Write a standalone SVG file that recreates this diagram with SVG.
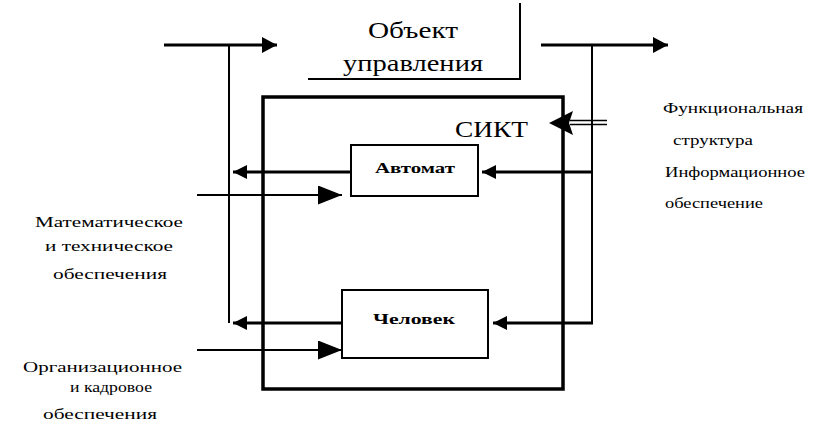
<svg xmlns="http://www.w3.org/2000/svg" width="816" height="427" viewBox="0 0 816 427">
<style>
  text { font-family: "Liberation Serif", "DejaVu Serif", "Times New Roman", serif; fill: #000; }
  .big { font-size: 24px; }
  .sm { font-size: 15px; }
  .node { font-size: 14px; font-weight: bold; }
  .thick { stroke: #000; stroke-width: 3; fill: none; }
  .thin { stroke: #000; stroke-width: 2; fill: none; }
  .hair { stroke: #000; stroke-width: 1.3; fill: none; }
  .box { stroke: #000; stroke-width: 2; fill: #fff; }
</style>
<defs>
  <marker id="aM" markerUnits="userSpaceOnUse" markerWidth="16" markerHeight="18" refX="15" refY="8" orient="auto">
    <path d="M0,0 L15,8 L0,16 Z" fill="#000"/>
  </marker>
  <marker id="aS" markerUnits="userSpaceOnUse" markerWidth="15" markerHeight="15" refX="14" refY="7" orient="auto">
    <path d="M0,0 L14,7 L0,14 Z" fill="#000"/>
  </marker>
  <marker id="aL" markerUnits="userSpaceOnUse" markerWidth="26" markerHeight="20" refX="24" refY="9.5" orient="auto">
    <path d="M0,0 L24,9.5 L0,19 Z" fill="#000"/>
  </marker>
</defs>
<rect width="816" height="427" fill="#fff"/>

<g id="object">
  <polyline class="thin" points="308,79 520,79 520,3"/>
  <text class="big" x="368" y="38" textLength="90" lengthAdjust="spacingAndGlyphs">Объект</text>
  <text class="big" x="343" y="71" textLength="140" lengthAdjust="spacingAndGlyphs">управления</text>
</g>

<g id="sikt">
  <rect x="263" y="97" width="300" height="292" fill="none" stroke="#000" stroke-width="3.5"/>
  <text class="big" x="455" y="137" textLength="73" lengthAdjust="spacingAndGlyphs">СИКТ</text>
</g>

<g id="connectors">
  <line class="thick" x1="164" y1="45" x2="277" y2="45" marker-end="url(#aM)"/>
  <line class="thin" x1="229" y1="45" x2="229" y2="323"/>
  <line class="thick" x1="351" y1="172" x2="233" y2="172" marker-end="url(#aS)"/>
  <line class="thick" x1="342" y1="323" x2="233" y2="323" marker-end="url(#aS)"/>
  <line class="thin" x1="197" y1="195" x2="342" y2="195" marker-end="url(#aL)"/>
  <line class="thin" x1="197" y1="350" x2="342" y2="350" marker-end="url(#aL)"/>
  <line class="thick" x1="541" y1="45" x2="668" y2="45" marker-end="url(#aM)"/>
  <line class="thin" x1="592" y1="45" x2="592" y2="324"/>
  <line class="thick" x1="593" y1="172" x2="482" y2="172" marker-end="url(#aS)"/>
  <line class="thick" x1="593" y1="323" x2="493" y2="323" marker-end="url(#aS)"/>
  <line class="hair" x1="607" y1="120.5" x2="570" y2="120.5"/>
  <line class="hair" x1="607" y1="124.5" x2="570" y2="124.5"/>
  <path d="M549,123 L573,111 L569,123 L573,135 Z" fill="#000"/>
</g>

<g id="automat">
  <rect class="box" x="351" y="145" width="127" height="51"/>
  <text class="node" x="375" y="173" textLength="80" lengthAdjust="spacingAndGlyphs">Автомат</text>
</g>

<g id="chelovek">
  <rect class="box" x="342" y="290" width="146" height="68"/>
  <text class="node" x="373" y="324" textLength="82" lengthAdjust="spacingAndGlyphs">Человек</text>
</g>

<g id="label-math">
  <text class="sm" x="35" y="227" textLength="148" lengthAdjust="spacingAndGlyphs">Математическое</text>
  <text class="sm" x="45" y="251" textLength="128" lengthAdjust="spacingAndGlyphs">и техническое</text>
  <text class="sm" x="53" y="279" textLength="114" lengthAdjust="spacingAndGlyphs">обеспечения</text>
</g>

<g id="label-org">
  <text class="sm" x="23" y="372" textLength="159" lengthAdjust="spacingAndGlyphs">Организационное</text>
  <text class="sm" x="70" y="392" textLength="82" lengthAdjust="spacingAndGlyphs">и кадровое</text>
  <text class="sm" x="43" y="419" textLength="114" lengthAdjust="spacingAndGlyphs">обеспечения</text>
</g>

<g id="label-right">
  <text class="sm" x="663" y="113" textLength="140" lengthAdjust="spacingAndGlyphs">Функциональная</text>
  <text class="sm" x="673" y="145" textLength="80" lengthAdjust="spacingAndGlyphs">структура</text>
  <text class="sm" x="665" y="177" textLength="140" lengthAdjust="spacingAndGlyphs">Информационное</text>
  <text class="sm" x="665" y="208" textLength="98" lengthAdjust="spacingAndGlyphs">обеспечение</text>
</g>
</svg>
